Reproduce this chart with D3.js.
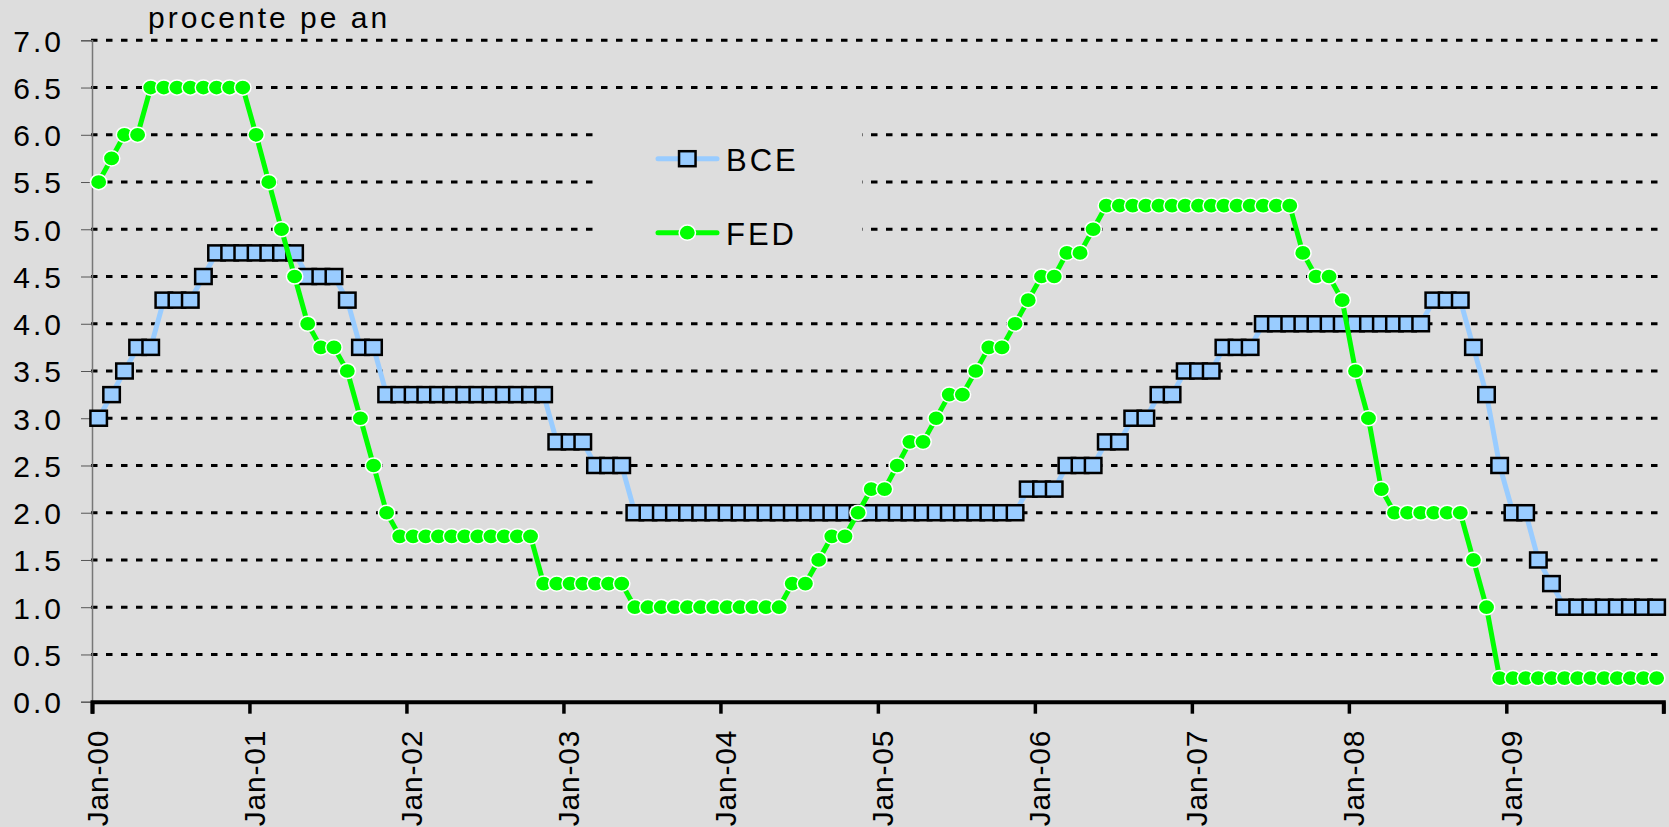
<!DOCTYPE html>
<html><head><meta charset="utf-8">
<script src="https://cdn.jsdelivr.net/npm/d3@7"></script>
<style>html,body{margin:0;padding:0;background:#dddddd;}svg{display:block;}</style>
</head><body>
<script>
// ---- DATA ----
const startMonth = new Date(2000, 0, 1);
const tickLabels = ["Jan-00","Jan-01","Jan-02","Jan-03","Jan-04","Jan-05","Jan-06","Jan-07","Jan-08","Jan-09"];
const yTicks = [0,0.5,1,1.5,2,2.5,3,3.5,4,4.5,5,5.5,6,6.5,7];
const seriesNames = ["BCE","FED"];
const bce = [
 3.0,3.25,3.5,3.75,3.75,4.25,4.25,4.25,4.5,4.75,4.75,4.75,
 4.75,4.75,4.75,4.75,4.5,4.5,4.5,4.25,3.75,3.75,3.25,3.25,
 3.25,3.25,3.25,3.25,3.25,3.25,3.25,3.25,3.25,3.25,3.25,2.75,
 2.75,2.75,2.5,2.5,2.5,2.0,2.0,2.0,2.0,2.0,2.0,2.0,
 2.0,2.0,2.0,2.0,2.0,2.0,2.0,2.0,2.0,2.0,2.0,2.0,
 2.0,2.0,2.0,2.0,2.0,2.0,2.0,2.0,2.0,2.0,2.0,2.25,
 2.25,2.25,2.5,2.5,2.5,2.75,2.75,3.0,3.0,3.25,3.25,3.5,
 3.5,3.5,3.75,3.75,3.75,4.0,4.0,4.0,4.0,4.0,4.0,4.0,
 4.0,4.0,4.0,4.0,4.0,4.0,4.25,4.25,4.25,3.75,3.25,2.5,
 2.0,2.0,1.5,1.25,1.0,1.0,1.0,1.0,1.0,1.0,1.0,1.0
];
const fed = [
 5.5,5.75,6.0,6.0,6.5,6.5,6.5,6.5,6.5,6.5,6.5,6.5,
 6.0,5.5,5.0,4.5,4.0,3.75,3.75,3.5,3.0,2.5,2.0,1.75,
 1.75,1.75,1.75,1.75,1.75,1.75,1.75,1.75,1.75,1.75,1.25,1.25,
 1.25,1.25,1.25,1.25,1.25,1.0,1.0,1.0,1.0,1.0,1.0,1.0,
 1.0,1.0,1.0,1.0,1.0,1.25,1.25,1.5,1.75,1.75,2.0,2.25,
 2.25,2.5,2.75,2.75,3.0,3.25,3.25,3.5,3.75,3.75,4.0,4.25,
 4.5,4.5,4.75,4.75,5.0,5.25,5.25,5.25,5.25,5.25,5.25,5.25,
 5.25,5.25,5.25,5.25,5.25,5.25,5.25,5.25,4.75,4.5,4.5,4.25,
 3.5,3.0,2.25,2.0,2.0,2.0,2.0,2.0,2.0,1.5,1.0,0.25,
 0.25,0.25,0.25,0.25,0.25,0.25,0.25,0.25,0.25,0.25,0.25,0.25
];
// ---- CHART ----
(function () {
const W = 1669, H = 827;
const bg = "#dddddd";
const pL = 92, pR = 1663.3, pT = 40.3, pB = 701.7;
const months = d3.timeMonth.range(startMonth, d3.timeMonth.offset(startMonth, bce.length));
const x = d3.scaleTime().domain([startMonth, d3.timeMonth.offset(startMonth, bce.length)]).range([pL, pR]);
const xm = d => (x(d) + x(d3.timeMonth.offset(d, 1))) / 2;
const y = d3.scaleLinear().domain([0, 7]).range([pB, pT]);

const svg = d3.select("body").append("svg").attr("width", W).attr("height", H);
svg.append("rect").attr("width", W).attr("height", H).attr("fill", bg);
const font = "'Liberation Sans', Arial, sans-serif";

// gridlines
svg.append("g").selectAll("line").data(yTicks.filter(v => v > 0)).join("line")
  .attr("x1", pL - 1).attr("x2", pR).attr("y1", d => y(d)).attr("y2", d => y(d))
  .attr("stroke", "#000").attr("stroke-width", 3).attr("stroke-dasharray", "6.5,8.5");

// y axis
const yAxis = d3.axisLeft(y).tickValues(yTicks).tickSize(11).tickPadding(0).tickFormat(d3.format(".1f"));
const gy = svg.append("g").attr("transform", `translate(${pL},0)`).call(yAxis);
gy.select(".domain").attr("stroke", "#777").attr("stroke-width", 1.5);
gy.selectAll(".tick line").attr("stroke", "#555").attr("stroke-width", 1);
gy.selectAll(".tick text").attr("x", -28).attr("dy", "0.36em").attr("fill", "#000")
  .style("font-family", font).style("font-size", "30px").style("letter-spacing", "3px");

// x axis
const xTickDates = d3.range(0, 11).map(i => d3.timeYear.offset(startMonth, i));
const xAxis = d3.axisBottom(x).tickValues(xTickDates).tickSize(12).tickFormat((d, i) => tickLabels[i] || "");
const gx = svg.append("g").attr("transform", `translate(0,${pB})`).call(xAxis);
gx.select(".domain").attr("stroke", "#000").attr("stroke-width", 4);
gx.selectAll(".tick line").attr("stroke", "#000").attr("stroke-width", 3.5);
gx.selectAll(".tick text").attr("transform", "translate(15,28) rotate(-90)").attr("x", 0).attr("y", 0).attr("dy", 0)
  .attr("text-anchor", "end").attr("fill", "#000")
  .style("font-family", font).style("font-size", "30px").style("letter-spacing", "0.8px");

// title
svg.append("text").attr("x", 148).attr("y", 28).text("procente pe an")
  .style("font-family", font).style("font-size", "30px").style("letter-spacing", "3px").attr("fill", "#000");

// legend background (hides gridlines)
svg.append("rect").attr("x", 597).attr("y", 100).attr("width", 265).attr("height", 152).attr("fill", bg);

// BCE series
const line = d3.line().x((d, i) => xm(months[i])).y(d => y(d));
svg.append("path").datum(bce).attr("d", line).attr("fill", "none")
  .attr("stroke", "#99ccff").attr("stroke-width", 5).attr("stroke-linejoin", "round");
const sqW = 16.5, sqH = 15;
svg.append("g").selectAll("rect").data(bce).join("rect")
  .attr("x", (d, i) => xm(months[i]) - sqW / 2).attr("y", d => y(d) - sqH / 2)
  .attr("width", sqW).attr("height", sqH)
  .attr("fill", "#99ccff").attr("stroke", "#000").attr("stroke-width", 2.5);

// FED series
svg.append("path").datum(fed).attr("d", line).attr("fill", "none")
  .attr("stroke", "#00ff00").attr("stroke-width", 5).attr("stroke-linejoin", "round");
svg.append("g").selectAll("ellipse").data(fed).join("ellipse")
  .attr("cx", (d, i) => xm(months[i])).attr("cy", d => y(d))
  .attr("rx", 8.2).attr("ry", 7.6)
  .attr("fill", "#00ff00").attr("stroke", "#fff").attr("stroke-width", 1.5);

// legend
const lg = svg.append("g");
const legY = [158.7, 232.7];
lg.append("line").attr("x1", 658).attr("x2", 717).attr("y1", legY[0]).attr("y2", legY[0])
  .attr("stroke", "#99ccff").attr("stroke-width", 5).attr("stroke-linecap", "round");
lg.append("rect").attr("x", 687.3 - sqW / 2).attr("y", legY[0] - sqH / 2).attr("width", sqW).attr("height", sqH)
  .attr("fill", "#99ccff").attr("stroke", "#000").attr("stroke-width", 2.5);
lg.append("line").attr("x1", 658).attr("x2", 717).attr("y1", legY[1]).attr("y2", legY[1])
  .attr("stroke", "#00ff00").attr("stroke-width", 5).attr("stroke-linecap", "round");
lg.append("ellipse").attr("cx", 687.3).attr("cy", legY[1]).attr("rx", 8.2).attr("ry", 7.6)
  .attr("fill", "#00ff00").attr("stroke", "#fff").attr("stroke-width", 1.5);
lg.selectAll("text").data(seriesNames).join("text")
  .attr("x", 726).attr("y", (d, i) => legY[i] + 12.5).text(d => d)
  .style("font-family", font).style("font-size", "31px").style("letter-spacing", "3px").attr("fill", "#000");
})();
</script>
</body></html>
